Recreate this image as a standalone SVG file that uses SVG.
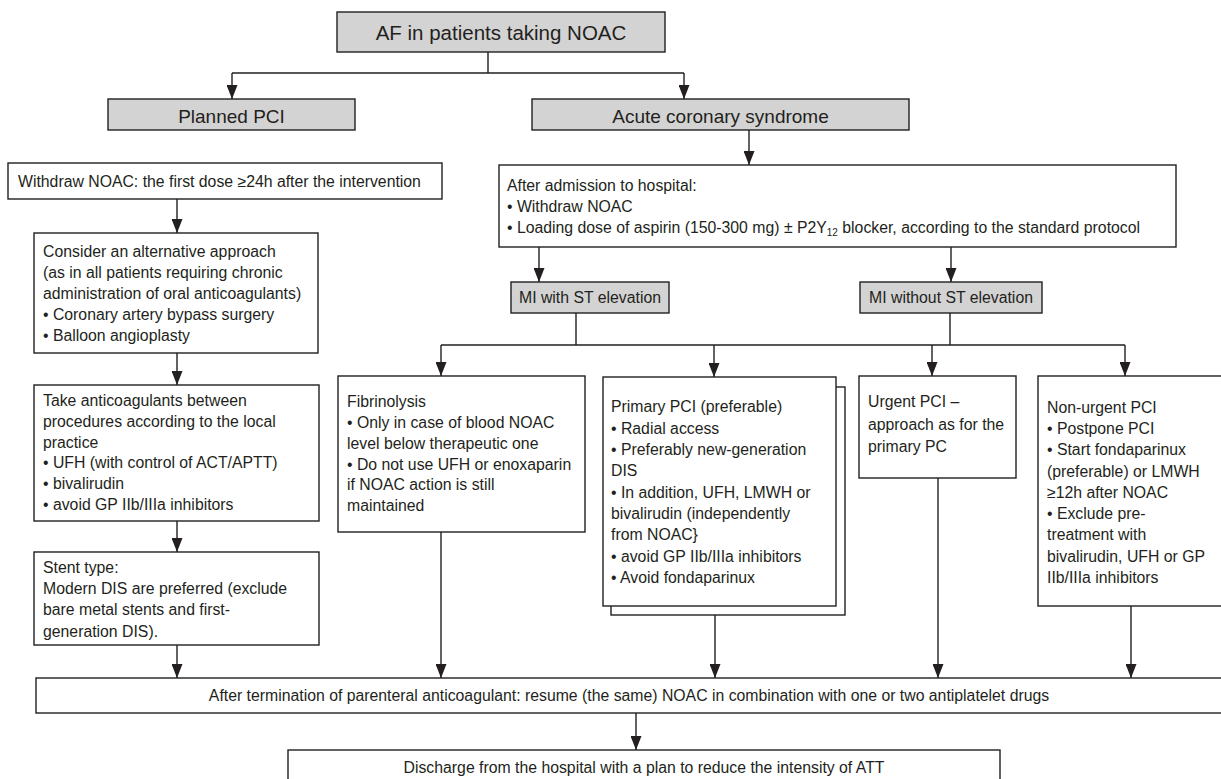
<svg xmlns="http://www.w3.org/2000/svg" width="1221" height="779" viewBox="0 0 1221 779">
<defs>
<marker id="ah" markerUnits="userSpaceOnUse" viewBox="0 0 14 11" refX="14" refY="5.5" markerWidth="14" markerHeight="11" orient="auto">
<path d="M0,0 L14,5.5 L0,11 z" fill="#231f20"/>
</marker>
<style>
.box{fill:#ffffff;stroke:#231f20;stroke-width:1.4}
.hdr{fill:#d3d3d3;stroke:#231f20;stroke-width:1.4}
text{font-family:"Liberation Sans",Arial,sans-serif;fill:#231f20;font-size:15.8px}
.t20{font-size:20.5px}
.t19{font-size:19px}
.mid{text-anchor:middle}
.ln{fill:none;stroke:#231f20;stroke-width:1.4}
.ar{fill:none;stroke:#231f20;stroke-width:1.4;marker-end:url(#ah)}
</style>
</defs>
<rect width="1221" height="779" fill="#ffffff"/>

<g id="connectors">
<path class="ln" d="M488,52 V73 M232,73 H684"/>
<path class="ar" d="M232,73 V99"/>
<path class="ar" d="M684,73 V99"/>
<path class="ar" d="M749,130 V165"/>
<path class="ar" d="M177,199 V233"/>
<path class="ar" d="M177,353 V385"/>
<path class="ar" d="M177,521 V552"/>
<path class="ar" d="M177,645 V678"/>
<path class="ar" d="M539,247 V282"/>
<path class="ar" d="M951,247 V282"/>
<path class="ln" d="M576,313 V345 M950,313 V345 M441,345 H1125"/>
<path class="ar" d="M441,345 V376"/>
<path class="ar" d="M714,345 V377"/>
<path class="ar" d="M932,345 V376"/>
<path class="ar" d="M1125,345 V376"/>
<path class="ar" d="M441,532 V678"/>
<path class="ar" d="M715,615 V678"/>
<path class="ar" d="M938,478 V678"/>
<path class="ar" d="M1131,606 V678"/>
<path class="ar" d="M636,713 V750"/>
</g>

<g id="n-top">
<rect class="hdr" x="337" y="12" width="328" height="40"/>
<text class="t20 mid" x="501" y="39.5">AF in patients taking NOAC</text>
</g>

<g id="n-planned">
<rect class="hdr" x="108" y="99" width="247" height="31"/>
<text class="t19 mid" x="231.5" y="123">Planned PCI</text>
</g>

<g id="n-acs">
<rect class="hdr" x="532" y="99" width="377" height="31"/>
<text class="t19 mid" x="720.5" y="123">Acute coronary syndrome</text>
</g>

<g id="n-withdraw">
<rect class="box" x="8" y="163" width="434" height="36"/>
<text x="18" y="187">Withdraw NOAC: the first dose ≥24h after the intervention</text>
</g>

<g id="n-admission">
<rect class="box" x="499" y="165" width="677" height="82"/>
<text x="507" y="191">After admission to hospital:</text>
<text x="507" y="212">• Withdraw NOAC</text>
<text x="507" y="233">• Loading dose of aspirin (150-300 mg) ± P2Y<tspan font-size="10" dy="3">12</tspan><tspan dy="-3"> blocker, according to the standard protocol</tspan></text>
</g>

<g id="n-consider">
<rect class="box" x="34" y="233" width="284" height="120"/>
<text x="43" y="257">Consider an alternative approach</text>
<text x="43" y="278">(as in all patients requiring chronic</text>
<text x="43" y="299">administration of oral anticoagulants)</text>
<text x="43" y="320">• Coronary artery bypass surgery</text>
<text x="43" y="341">• Balloon angioplasty</text>
</g>

<g id="n-take">
<rect class="box" x="34" y="385" width="285" height="136"/>
<text x="43" y="406">Take anticoagulants between</text>
<text x="43" y="427">procedures according to the local</text>
<text x="43" y="448">practice</text>
<text x="43" y="468">• UFH (with control of ACT/APTT)</text>
<text x="43" y="489">• bivalirudin</text>
<text x="43" y="510">• avoid GP IIb/IIIa inhibitors</text>
</g>

<g id="n-stent">
<rect class="box" x="34" y="552" width="285" height="93"/>
<text x="43" y="573">Stent type:</text>
<text x="43" y="594">Modern DIS are preferred (exclude</text>
<text x="43" y="615">bare metal stents and first-</text>
<text x="43" y="637">generation DIS).</text>
</g>

<g id="n-stemi">
<rect class="hdr" x="511" y="282" width="158" height="31"/>
<text class="mid" x="590" y="303">MI with ST elevation</text>
</g>

<g id="n-nstemi">
<rect class="hdr" x="860" y="282" width="182" height="31"/>
<text class="mid" x="951" y="303">MI without ST elevation</text>
</g>

<g id="n-fibrinolysis">
<rect class="box" x="338" y="376" width="247" height="156"/>
<text x="347" y="407">Fibrinolysis</text>
<text x="347" y="428">• Only in case of blood NOAC</text>
<text x="347" y="449">level below therapeutic one</text>
<text x="347" y="470">• Do not use UFH or enoxaparin</text>
<text x="347" y="490">if NOAC action is still</text>
<text x="347" y="511">maintained</text>
</g>

<g id="n-primary">
<rect class="box" x="611" y="387" width="234" height="228"/>
<rect class="box" x="603" y="377" width="233" height="229"/>
<text x="611" y="412">Primary PCI (preferable)</text>
<text x="611" y="433.5">• Radial access</text>
<text x="611" y="455">• Preferably new-generation</text>
<text x="611" y="476">DIS</text>
<text x="611" y="497.5">• In addition, UFH, LMWH or</text>
<text x="611" y="519">bivalirudin (independently</text>
<text x="611" y="540">from NOAC}</text>
<text x="611" y="561.5">• avoid GP IIb/IIIa inhibitors</text>
<text x="611" y="583">• Avoid fondaparinux</text>
</g>

<g id="n-urgent">
<rect class="box" x="859" y="376" width="157" height="102"/>
<text x="868" y="407">Urgent PCI –</text>
<text x="868" y="429.5">approach as for the</text>
<text x="868" y="452">primary PC</text>
</g>

<g id="n-nonurgent">
<rect class="box" x="1038" y="376" width="186" height="230"/>
<text x="1047" y="413">Non-urgent PCI</text>
<text x="1047" y="434">• Postpone PCI</text>
<text x="1047" y="455">• Start fondaparinux</text>
<text x="1047" y="477">(preferable) or LMWH</text>
<text x="1047" y="498">≥12h after NOAC</text>
<text x="1047" y="519">• Exclude pre-</text>
<text x="1047" y="540">treatment with</text>
<text x="1047" y="562">bivalirudin, UFH or GP</text>
<text x="1047" y="583">IIb/IIIa inhibitors</text>
</g>

<g id="n-resume">
<rect class="box" x="36" y="678" width="1188" height="35"/>
<text class="mid" x="629" y="701">After termination of parenteral anticoagulant: resume (the same) NOAC in combination with one or two antiplatelet drugs</text>
</g>

<g id="n-discharge">
<rect class="box" x="288" y="750" width="712" height="40"/>
<text class="mid" x="644" y="773">Discharge from the hospital with a plan to reduce the intensity of ATT</text>
</g>
</svg>
